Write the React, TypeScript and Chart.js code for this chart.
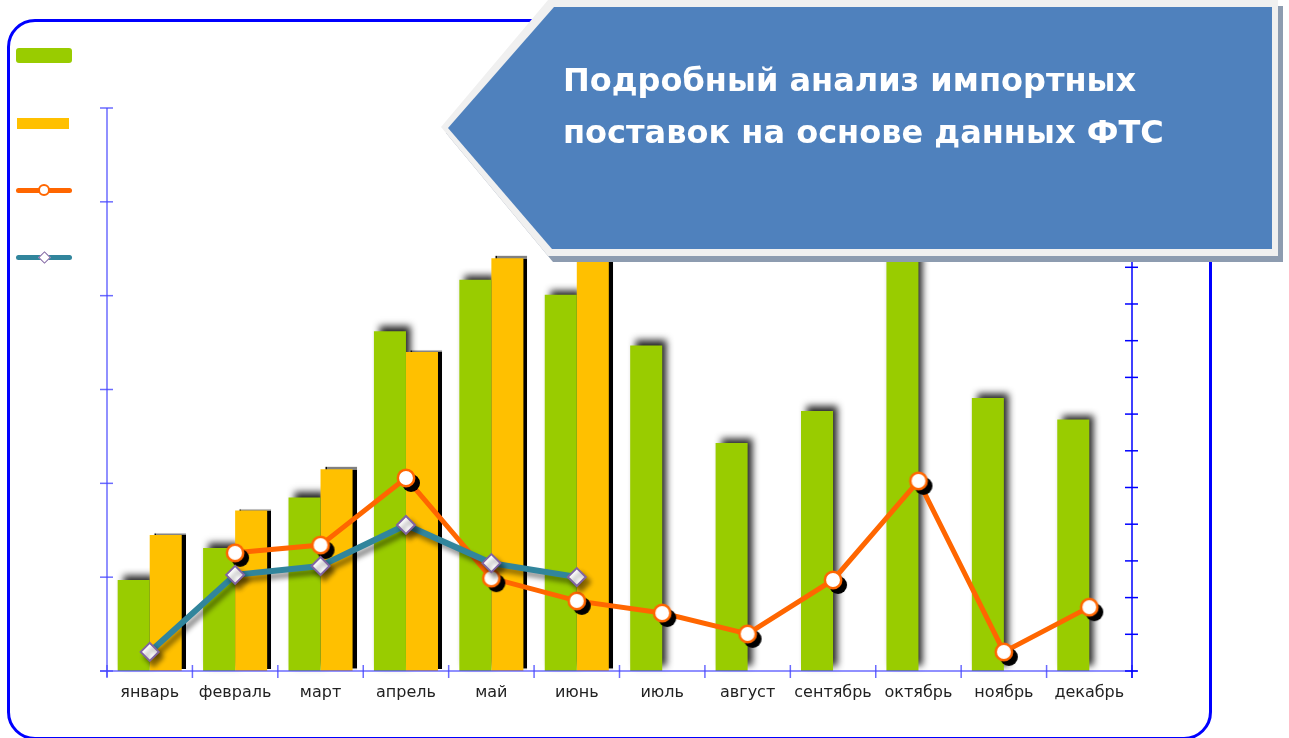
import React, { useEffect, useRef } from 'react';
import { Chart, registerables } from 'chart.js';

Chart.register(...registerables);

// ---------- data ----------
const months = ['январь', 'февраль', 'март', 'апрель', 'май', 'июнь', 'июль', 'август', 'сентябрь', 'октябрь', 'ноябрь', 'декабрь'];
const seriesNames = ['Импорт 2012, тыс. т', 'Импорт 2013, тыс. т', 'Доля 2012, %', 'Доля 2013, %'];
const import2012 = [9.7, 13.1, 18.5, 36.2, 41.7, 40.1, 34.7, 24.3, 27.7, 53.0, 29.1, 26.8];
const import2013 = [14.5, 17.1, 21.5, 34.0, 44.0, 49.0, null, null, null, null, null, null];
const share2012 = [null, 3.22, 3.43, 5.26, 2.53, 1.91, 1.58, 1.01, 2.48, 5.18, 0.52, 1.74];
const share2013 = [0.52, 2.62, 2.86, 3.98, 2.94, 2.56, null, null, null, null, null, null];
const leftAxis = { min: 0, max: 60, step: 10 };
const rightAxis = { min: 0, max: 15.34, step: 1 };
const titleLines = ['Подробный анализ импортных', 'поставок на основе данных ФТС'];

const GREEN = '#99cc00';
const YELLOW = '#ffc000';
const ORANGE = '#ff6600';
const TEAL = '#31859c';
const PURPLE = '#8064a2';

function makeOrangeMarker(): HTMLCanvasElement {
  const c = document.createElement('canvas');
  c.width = 44;
  c.height = 44;
  const g = c.getContext('2d')!;
  g.fillStyle = '#000';
  g.beginPath();
  g.arc(27, 27, 9, 0, Math.PI * 2);
  g.fill();
  g.fillStyle = '#fff';
  g.strokeStyle = ORANGE;
  g.lineWidth = 2.5;
  g.beginPath();
  g.arc(22, 22, 8.2, 0, Math.PI * 2);
  g.fill();
  g.stroke();
  return c;
}

const shadowPlugin = {
  id: 'dsShadow',
  beforeDatasetDraw(chart: any, args: any) {
    const ds = chart.data.datasets[args.index];
    const s = ds.shadow;
    if (!s || s.behind) return;
    const ctx = chart.ctx;
    ctx.save();
    ctx.shadowColor = s.color;
    ctx.shadowBlur = s.blur;
    ctx.shadowOffsetX = s.x;
    ctx.shadowOffsetY = s.y;
  },
  afterDatasetDraw(chart: any, args: any) {
    const ds = chart.data.datasets[args.index];
    const s = ds.shadow;
    if (!s) return;
    const ctx = chart.ctx;
    if (!s.behind) {
      ctx.restore();
      return;
    }
    // shadow-only pass, composited behind what is already drawn
    const far = 10000;
    ctx.save();
    ctx.globalCompositeOperation = 'destination-over';
    ctx.shadowColor = s.color;
    ctx.shadowBlur = s.blur;
    ctx.shadowOffsetX = s.x + far;
    ctx.shadowOffsetY = s.y;
    ctx.translate(-far, 0);
    args.meta.data.forEach((el: any) => el.draw(ctx));
    ctx.restore();
  },
};

const axesPlugin = {
  id: 'crossAxes',
  afterDatasetsDraw(chart: any) {
    const ctx = chart.ctx;
    const { left, right, top, bottom } = chart.chartArea;
    const yl = chart.scales.yL;
    const yr = chart.scales.yR;
    const x = chart.scales.x;
    const line = (x1: number, y1: number, x2: number, y2: number) => {
      ctx.beginPath();
      ctx.moveTo(x1, y1);
      ctx.lineTo(x2, y2);
      ctx.stroke();
    };
    ctx.save();
    ctx.lineCap = 'butt';
    // left axis
    ctx.strokeStyle = 'rgba(70,70,255,0.8)';
    ctx.lineWidth = 1.5;
    line(left, top, left, bottom + 6);
    yl.ticks.forEach((t: any) => {
      const y = yl.getPixelForValue(t.value);
      line(left - 7, y, left + 6, y);
    });
    // x axis
    line(left - 7, bottom, right + 5, bottom);
    const w = x.getPixelForValue(1) - x.getPixelForValue(0);
    const x0 = x.getPixelForValue(0) - w / 2;
    for (let i = 0; i <= months.length; i++) {
      const px = x0 + i * w;
      line(px, bottom - 6, px, bottom + 7);
    }
    // right axis
    ctx.strokeStyle = '#0000ff';
    ctx.lineWidth = 1.5;
    line(right, top, right, bottom + 7);
    yr.ticks.forEach((t: any) => {
      const y = yr.getPixelForValue(t.value);
      line(right - 7, y, right + 6, y);
    });
    ctx.restore();
  },
};

function ChartCanvas() {
  const ref = useRef<HTMLCanvasElement | null>(null);
  useEffect(() => {
    if (!ref.current) return;
    const marker = makeOrangeMarker();
    const chart = new Chart(ref.current, {
      type: 'bar',
      data: {
        labels: months,
        datasets: [
          {
            type: 'bar',
            label: seriesNames[0],
            data: import2012,
            backgroundColor: GREEN,
            borderWidth: 0,
            categoryPercentage: 0.75,
            barPercentage: 1,
            yAxisID: 'yL',
            order: 2,
            shadow: { color: 'rgba(0,0,0,0.85)', blur: 7, x: 5, y: -5, behind: true },
          } as any,
          {
            type: 'bar',
            label: seriesNames[1],
            data: import2013,
            backgroundColor: YELLOW,
            borderWidth: 0,
            categoryPercentage: 0.75,
            barPercentage: 1,
            yAxisID: 'yL',
            order: 2,
            shadow: { color: 'rgba(0,0,0,1)', blur: 1, x: 4, y: -2 },
          } as any,
          {
            type: 'line',
            label: seriesNames[2],
            data: share2012,
            borderColor: ORANGE,
            borderWidth: 5,
            pointStyle: marker,
            pointRadius: 9,
            tension: 0,
            yAxisID: 'yR',
            order: 1,
            clip: false,
          } as any,
          {
            type: 'line',
            label: seriesNames[3],
            data: share2013,
            borderColor: TEAL,
            borderWidth: 6,
            pointStyle: 'rectRot',
            pointRadius: 9,
            pointBackgroundColor: '#ffffff',
            pointBorderColor: PURPLE,
            pointBorderWidth: 2,
            tension: 0,
            yAxisID: 'yR',
            order: 0,
            clip: false,
            shadow: { color: 'rgba(0,0,0,0.45)', blur: 5, x: 4, y: 5 },
          } as any,
        ],
      },
      options: {
        animation: false,
        responsive: false,
        maintainAspectRatio: false,
        layout: { padding: { top: 88, left: 0, right: 0, bottom: 0 } },
        plugins: {
          legend: { display: false },
          tooltip: { enabled: false },
          title: { display: false },
        },
        scales: {
          x: {
            type: 'category',
            offset: true,
            grid: { display: false, drawTicks: false },
            border: { display: false },
            ticks: {
              color: '#222222',
              font: { family: 'DejaVu Sans', size: 16 },
              padding: 12,
              maxRotation: 0,
              autoSkip: false,
            },
            afterFit: (s: any) => {
              s.height = 67;
            },
          },
          yL: {
            type: 'linear',
            position: 'left',
            min: leftAxis.min,
            max: leftAxis.max,
            ticks: { stepSize: leftAxis.step, display: false },
            grid: { display: false },
            border: { display: false },
            afterFit: (s: any) => {
              s.width = 99;
            },
          },
          yR: {
            type: 'linear',
            position: 'right',
            min: rightAxis.min,
            max: rightAxis.max,
            ticks: { stepSize: rightAxis.step, display: false },
            grid: { display: false },
            border: { display: false },
            afterFit: (s: any) => {
              s.width = 79;
            },
          },
        },
      } as any,
      plugins: [shadowPlugin, axesPlugin],
    });
    return () => chart.destroy();
  }, []);
  return (
    <canvas
      ref={ref}
      width={1203}
      height={718}
      style={{ position: 'absolute', left: 8, top: 20, width: 1203, height: 718 }}
    />
  );
}

function Legend() {
  const rowTop = [55, 123, 190, 257];
  const label = (i: number) => (
    <div
      style={{
        position: 'absolute',
        left: 80,
        top: rowTop[i] - 9,
        color: '#ffffff',
        font: '13px "DejaVu Sans", sans-serif',
        whiteSpace: 'nowrap',
      }}
    >
      {seriesNames[i]}
    </div>
  );
  return (
    <>
      <div style={{ position: 'absolute', left: 16, top: 48, width: 56, height: 15, borderRadius: 3, background: GREEN }} />
      {label(0)}
      <div style={{ position: 'absolute', left: 17, top: 118, width: 52, height: 11, background: YELLOW }} />
      {label(1)}
      <div style={{ position: 'absolute', left: 16, top: 188, width: 56, height: 5, borderRadius: 3, background: ORANGE }} />
      <div
        style={{
          position: 'absolute',
          left: 38,
          top: 184,
          width: 8,
          height: 8,
          borderRadius: '50%',
          background: '#fff',
          border: `2px solid ${ORANGE}`,
        }}
      />
      {label(2)}
      <div style={{ position: 'absolute', left: 16, top: 255, width: 56, height: 5, borderRadius: 3, background: TEAL }} />
      <div
        style={{
          position: 'absolute',
          left: 39.5,
          top: 253,
          width: 7,
          height: 7,
          transform: 'rotate(45deg)',
          background: '#fff',
          border: `1.5px solid ${PURPLE}`,
        }}
      />
      {label(3)}
    </>
  );
}

function Banner() {
  const light = 'polygon(441px 127px, 548px 0px, 1278px 0px, 1278px 256px, 548px 256px)';
  const blue = 'polygon(448px 128px, 554px 7px, 1272px 7px, 1272px 249px, 552px 249px)';
  const full: React.CSSProperties = { position: 'absolute', left: 0, top: 0, width: 1289, height: 738 };
  return (
    <>
      <div style={{ ...full, clipPath: light, background: '#8d9cb0', transform: 'translate(5px, 6px)' }} />
      <div style={{ ...full, clipPath: light, background: '#f0f0f0' }} />
      <div style={{ ...full, clipPath: blue, background: '#4f81bd' }} />
      <div
        style={{
          position: 'absolute',
          left: 563,
          top: 54,
          color: '#ffffff',
          font: 'bold 32px "DejaVu Sans", sans-serif',
          lineHeight: '52px',
          whiteSpace: 'nowrap',
        }}
      >
        {titleLines.map((t, i) => (
          <div key={i}>{t}</div>
        ))}
      </div>
    </>
  );
}

export default function App() {
  return (
    <div
      style={{
        position: 'absolute',
        left: 0,
        top: 0,
        width: 1289,
        height: 738,
        overflow: 'hidden',
        background: '#ffffff',
      }}
    >
      <div
        style={{
          position: 'absolute',
          left: 7,
          top: 19,
          width: 1205,
          height: 721,
          boxSizing: 'border-box',
          border: '3px solid #0000ff',
          borderRadius: 28,
        }}
      />
      <Legend />
      <ChartCanvas />
      <Banner />
    </div>
  );
}
